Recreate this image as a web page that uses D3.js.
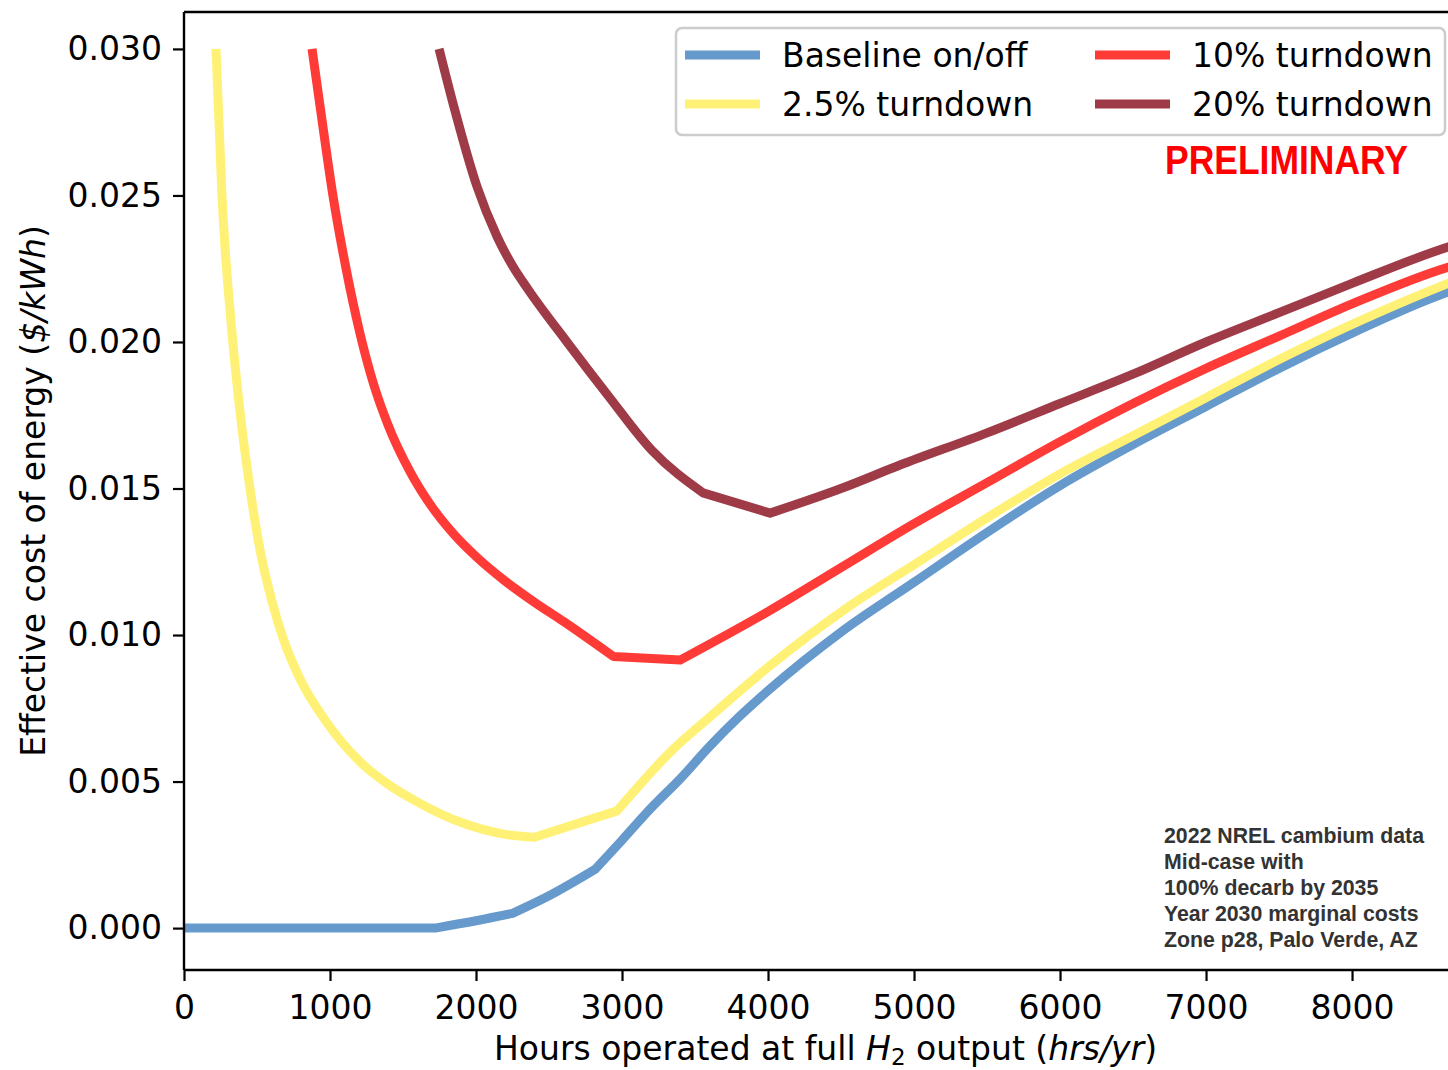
<!DOCTYPE html>
<html>
<head>
<meta charset="utf-8">
<script src="https://cdn.jsdelivr.net/npm/d3@7/dist/d3.min.js"></script>
<style>
  html, body { margin: 0; padding: 0; background: #fff; }
  svg { display: block; }
</style>
</head>
<body>
<svg id="chart" width="1448" height="1070"></svg>
<script>
// ---------------- DATA ----------------
const seriesNames = ["Baseline on/off", "2.5% turndown", "10% turndown", "20% turndown"];
const seriesColors = ["#6699cc", "#fff176", "#ff3b38", "#9e3b47"];

const baselineHours = [0, 500, 1000, 1500, 1720, 2000, 2250, 2500, 2815, 3000, 3200, 3400, 3600, 3800, 4000, 4500, 5000, 5500, 6000, 6500, 7000, 7500, 8000, 8500, 8760];
const baselineCost  = [0, 0, 0, 0, 0, 0.00025, 0.0005, 0.0011, 0.0020, 0.0030, 0.0041, 0.0051, 0.0062, 0.0072, 0.0081, 0.0101, 0.0118, 0.0135, 0.0151, 0.0165, 0.0178, 0.0191, 0.0203, 0.0214, 0.0219];
const baselineKinks = [1720, 2250, 2815];

const turndown25Hours = [219, 260, 329, 384, 452, 521, 600, 678, 795, 966, 1200, 1400, 1600, 1900, 2200, 2400, 2966, 3350, 3600, 4000, 4562, 5000, 5500, 6000, 6500, 7000, 7500, 8000, 8657, 8760];
const turndown25Cost  = [0.0300, 0.0250, 0.0203, 0.0176, 0.0150, 0.0129, 0.0112, 0.0099, 0.0085, 0.0071, 0.0057, 0.0049, 0.0043, 0.0036, 0.0032, 0.0031, 0.0040, 0.0061, 0.0072, 0.0089, 0.0110, 0.0124, 0.0140, 0.0155, 0.0168, 0.0181, 0.0194, 0.0206, 0.0220, 0.0222];
const turndown25Kinks = [2400, 2966];

const turndown10Hours = [877, 950, 1020, 1110, 1205, 1300, 1400, 1550, 1700, 1850, 2000, 2200, 2400, 2600, 2940, 3400, 4000, 4500, 5000, 5500, 6000, 6500, 7000, 7500, 8000, 8657, 8760];
const turndown10Cost  = [0.0300, 0.0274, 0.0250, 0.0225, 0.0203, 0.01854, 0.01714, 0.01556, 0.01436, 0.01343, 0.01268, 0.01184, 0.01112, 0.01046, 0.00927, 0.00915, 0.0108, 0.0123, 0.0138, 0.0152, 0.0166, 0.0179, 0.0191, 0.0202, 0.0213, 0.02255, 0.0227];
const turndown10Kinks = [2940, 3400];

const turndown20Hours = [1747, 1850, 2007, 2144, 2250, 2356, 2623, 2900, 3205, 3555, 4014, 4500, 4904, 5500, 6000, 6500, 7000, 7500, 8000, 8657, 8760];
const turndown20Cost  = [0.0300, 0.0280, 0.0253, 0.0236, 0.0226, 0.0218, 0.0200, 0.0182, 0.0163, 0.01485, 0.01416, 0.0150, 0.0158, 0.0169, 0.0179, 0.0189, 0.0200, 0.0210, 0.0220, 0.02324, 0.0234];
const turndown20Kinks = [3555, 4014];

const xTicks = [0, 1000, 2000, 3000, 4000, 5000, 6000, 7000, 8000];
const yTicks = [0.000, 0.005, 0.010, 0.015, 0.020, 0.025, 0.030];

const noteLines = ["2022 NREL cambium data", "Mid-case with", "100% decarb by 2035", "Year 2030 marginal costs", "Zone p28, Palo Verde, AZ"];

// ---------------- CHART ----------------
(function () {
const svg = d3.select("#chart");
svg.append("rect").attr("width", 1448).attr("height", 1070).attr("fill", "#fff");

const pLeft = 184, pRight = 1463, pTop = 12, pBottom = 970;
const x = d3.scaleLinear().domain([0, 8760]).range([pLeft, pRight]);
const y = d3.scaleLinear().domain([-0.00143, 0.03126]).range([pBottom, pTop]);

const FONT = "'DejaVu Sans', sans-serif";
const FS = 33;

svg.append("clipPath").attr("id", "clip")
  .append("rect").attr("x", pLeft).attr("y", pTop).attr("width", pRight - pLeft).attr("height", pBottom - pTop);

const series = [
  { name: seriesNames[0], color: seriesColors[0], h: baselineHours, c: baselineCost, k: baselineKinks },
  { name: seriesNames[1], color: seriesColors[1], h: turndown25Hours, c: turndown25Cost, k: turndown25Kinks },
  { name: seriesNames[2], color: seriesColors[2], h: turndown10Hours, c: turndown10Cost, k: turndown10Kinks },
  { name: seriesNames[3], color: seriesColors[3], h: turndown20Hours, c: turndown20Cost, k: turndown20Kinks }
];

// piecewise smooth path: smooth between kink points, sharp at kinks
function piecewisePath(pts, kinks) {
  const pieces = [];
  let cur = [];
  pts.forEach(p => {
    cur.push(p);
    if (kinks.includes(p[0])) { pieces.push(cur); cur = [p]; }
  });
  if (cur.length > 1) pieces.push(cur);
  let d = "";
  pieces.forEach((pc, i) => {
    const gen = d3.line().x(q => x(q[0])).y(q => y(q[1]))
      .curve(pc.length > 2 ? d3.curveMonotoneX : d3.curveLinear);
    let s = gen(pc);
    if (i > 0) s = "L" + s.slice(1);
    d += s;
  });
  return d;
}

const plot = svg.append("g").attr("clip-path", "url(#clip)");
series.forEach(s => {
  const pts = s.h.map((h, i) => [h, s.c[i]]);
  plot.append("path")
    .attr("d", piecewisePath(pts, s.k))
    .attr("fill", "none")
    .attr("stroke", s.color)
    .attr("stroke-width", 9)
    .attr("stroke-linejoin", "round")
    .attr("stroke-linecap", "butt");
});

// Axes
const xAxis = d3.axisBottom(x).tickValues(xTicks).tickFormat(d3.format("d")).tickSize(11).tickPadding(13);
const gx = svg.append("g").attr("transform", `translate(0,${pBottom})`).call(xAxis);
const yAxis = d3.axisLeft(y).tickValues(yTicks).tickFormat(d3.format(".3f")).tickSize(11).tickPadding(11);
const gy = svg.append("g").attr("transform", `translate(${pLeft},0)`).call(yAxis);

[gx, gy].forEach(g => {
  g.select(".domain").remove();
  g.selectAll(".tick line").attr("stroke", "#000").attr("stroke-width", 2.2);
  g.selectAll(".tick text").attr("font-family", FONT).attr("font-size", FS).attr("fill", "#000");
});
gx.selectAll(".tick text").attr("dy", "0.76em");

// spines
svg.append("line").attr("x1", pLeft).attr("x2", pLeft).attr("y1", pTop).attr("y2", pBottom)
  .attr("stroke", "#000").attr("stroke-width", 2.4);
svg.append("line").attr("x1", pLeft).attr("x2", 1448).attr("y1", pBottom).attr("y2", pBottom)
  .attr("stroke", "#000").attr("stroke-width", 2.4);
svg.append("line").attr("x1", pLeft).attr("x2", 1448).attr("y1", pTop).attr("y2", pTop)
  .attr("stroke", "#000").attr("stroke-width", 2.4);

// Axis labels
const xl = svg.append("text")
  .attr("x", (pLeft + pRight) / 2 + 2).attr("y", 1060)
  .attr("text-anchor", "middle")
  .attr("font-family", FONT).attr("font-size", FS).attr("fill", "#000");
xl.append("tspan").text("Hours operated at full ");
xl.append("tspan").attr("font-style", "italic").text("H");
xl.append("tspan").attr("font-size", 23).attr("dy", 5).text("2");
xl.append("tspan").attr("dy", -5).text(" output (");
xl.append("tspan").attr("font-style", "italic").text("hrs/yr");
xl.append("tspan").text(")");

const yl = svg.append("text")
  .attr("transform", `translate(45,${(pTop + pBottom) / 2}) rotate(-90)`)
  .attr("text-anchor", "middle")
  .attr("font-family", FONT).attr("font-size", FS).attr("fill", "#000");
yl.append("tspan").text("Effective cost of energy (");
yl.append("tspan").attr("font-style", "italic").text("$/kWh");
yl.append("tspan").text(")");

// Legend
const lg = svg.append("g");
lg.append("rect").attr("x", 676).attr("y", 28).attr("width", 769).attr("height", 107)
  .attr("rx", 6).attr("fill", "#fff").attr("fill-opacity", 0.85)
  .attr("stroke", "#cccccc").attr("stroke-width", 2.5);
const legendPos = [[685, 55], [685, 104], [1095, 55], [1095, 104]];
series.forEach((s, i) => {
  const [lx, ly] = legendPos[i];
  lg.append("line").attr("x1", lx).attr("x2", lx + 75).attr("y1", ly).attr("y2", ly)
    .attr("stroke", s.color).attr("stroke-width", 9);
  lg.append("text").attr("x", lx + 97).attr("y", ly + 12)
    .attr("font-family", FONT).attr("font-size", FS).attr("fill", "#000")
    .text(s.name);
});

// PRELIMINARY
svg.append("text").attr("x", 1165).attr("y", 174)
  .attr("font-family", "'Liberation Sans', Arial, sans-serif").attr("font-weight", "bold")
  .attr("font-size", 40).attr("fill", "#ff0000")
  .attr("textLength", 243).attr("lengthAdjust", "spacingAndGlyphs")
  .text("PRELIMINARY");

// Note
const note = svg.append("text")
  .attr("font-family", "'Liberation Sans', Arial, sans-serif").attr("font-weight", "bold")
  .attr("font-size", 21.3).attr("fill", "#333");
noteLines.forEach((t, i) => {
  note.append("tspan").attr("x", 1164).attr("y", 843 + i * 26).text(t);
});
})();
</script>
</body>
</html>
